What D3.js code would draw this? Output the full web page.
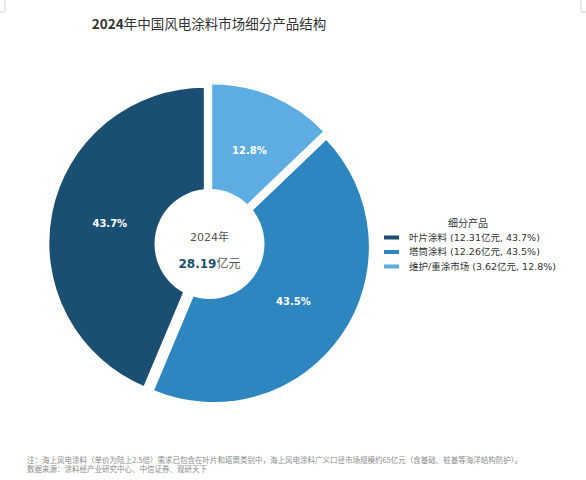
<!DOCTYPE html>
<html>
<head>
<meta charset="utf-8">
<script src="https://cdn.jsdelivr.net/npm/d3@7"></script>
<style>
  body { margin: 0; background: #fff; }
  text { font-family: "DejaVu Sans", "Noto Sans CJK SC", sans-serif; }
</style>
</head>
<body>
<div id="chart"></div>
<script>
// data
const categories = ["叶片涂料", "塔筒涂料", "维护/重涂市场"];
const values = [12.31, 12.26, 3.62];
const shares = [43.7, 43.5, 12.8];
const colors = ["#1b4f72", "#2e86c1", "#5dade2"];
const totalLabel = "28.19";
const yearLabel = "2024年";

const width = 586, height = 480;
const cx = 209.5, cy = 244, radius = 156, explode = 5, holeRadius = 55;

const svg = d3.select("#chart").append("svg")
    .attr("width", width)
    .attr("height", height)
    .style("background", "#fff");

// faint crop marks in the corners
svg.append("path")
    .attr("d", "M5,0V12H0M581,0V12H586")
    .attr("fill", "none")
    .attr("stroke", "#d0d0d0")
    .attr("stroke-width", 1);

// Title
const title = svg.append("text")
    .attr("x", 209)
    .attr("y", 24)
    .attr("dy", "0.35em")
    .attr("text-anchor", "middle")
    .style("font-family", "'Noto Sans CJK SC', sans-serif")
    .style("font-size", "13.5px")
    .attr("fill", "#333");
title.append("tspan").style("font-weight", "bold").text("2024");
title.append("tspan").text("年中国风电涂料市场细分产品结构");

// Pie, first slice from 12 o'clock going counter-clockwise
const pie = d3.pie().sort(null).startAngle(0).endAngle(-2 * Math.PI);
const arcs = pie(values);

const arc = d3.arc().innerRadius(0).outerRadius(radius);
const labelArc = d3.arc().innerRadius(radius * 0.62).outerRadius(radius * 0.62);

const g = svg.append("g").attr("transform", "translate(" + cx + "," + cy + ")");

const slices = g.selectAll(".slice")
    .data(arcs)
    .enter().append("g")
    .attr("class", "slice")
    .attr("transform", function (d) {
        const a = (d.startAngle + d.endAngle) / 2;
        return "translate(" + (Math.sin(a) * explode) + "," + (-Math.cos(a) * explode) + ")";
    });

slices.append("path")
    .attr("d", arc)
    .attr("fill", (d, i) => colors[i])
    .attr("stroke", "#fff")
    .attr("stroke-width", 1.5);

// white hole
g.append("circle")
    .attr("r", holeRadius)
    .attr("fill", "#fff");

slices.append("text")
    .attr("transform", d => "translate(" + labelArc.centroid(d) + ")")
    .attr("dy", "0.35em")
    .attr("text-anchor", "middle")
    .style("font-size", "10px")
    .style("font-weight", "bold")
    .attr("fill", "#fff")
    .text((d, i) => shares[i].toFixed(1) + "%");

// center text
g.append("text")
    .attr("y", -7)
    .attr("dy", "0.35em")
    .attr("text-anchor", "middle")
    .style("font-size", "11px")
    .attr("fill", "#555")
    .text(yearLabel);

const tot = g.append("text")
    .attr("y", 20)
    .attr("dy", "0.35em")
    .attr("text-anchor", "middle")
    .style("font-size", "12px");
tot.append("tspan").style("font-weight", "bold").attr("fill", "#1b4f72").text(totalLabel);
tot.append("tspan").attr("fill", "#555").text("亿元");

// Legend
const legend = svg.append("g").attr("transform", "translate(384,223)");

legend.append("text")
    .attr("x", 84)
    .attr("dy", "0.35em")
    .attr("text-anchor", "middle")
    .style("font-size", "10px")
    .attr("fill", "#333")
    .text("细分产品");

const item = legend.selectAll(".item")
    .data(categories)
    .enter().append("g")
    .attr("class", "item")
    .attr("transform", (d, i) => "translate(0," + (14.5 + i * 14.5) + ")");

item.append("rect")
    .attr("y", -2)
    .attr("width", 15)
    .attr("height", 4)
    .attr("fill", (d, i) => colors[i]);

item.append("text")
    .attr("x", 25)
    .attr("dy", "0.35em")
    .style("font-size", "9.5px")
    .attr("fill", "#333")
    .text((d, i) => d + " (" + values[i].toFixed(2) + "亿元, " + shares[i].toFixed(1) + "%)");

// Footnote
const notes = [
    "注：海上风电涂料（单价为陆上2.5倍）需求已包含在叶片和塔筒类别中，海上风电涂料广义口径市场规模约65亿元（含基础、桩基等海洋结构防护）。",
    "数据来源：涂料经产业研究中心、中信证券、观研天下"
];
svg.selectAll(".note")
    .data(notes)
    .enter().append("text")
    .attr("class", "note")
    .attr("x", 27)
    .attr("y", (d, i) => 460 + i * 9.5)
    .attr("dy", "0.35em")
    .style("font-family", "'Noto Sans CJK SC', sans-serif")
    .style("font-size", "7.5px")
    .attr("fill", "#8a8a8a")
    .text(d => d);
</script>
</body>
</html>
